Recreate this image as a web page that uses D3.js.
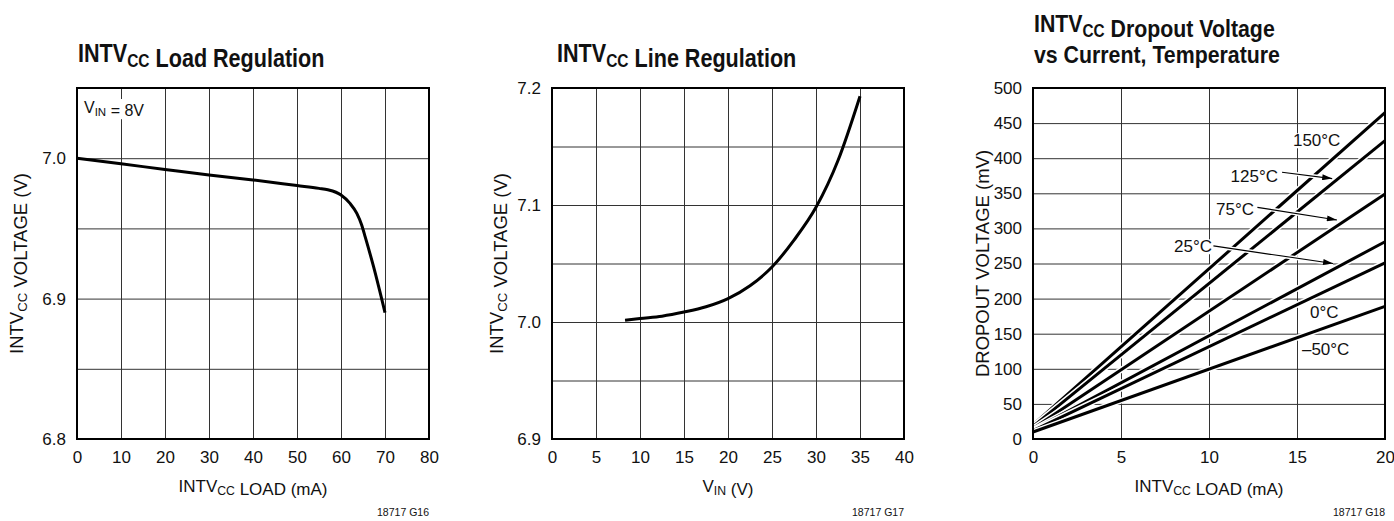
<!DOCTYPE html>
<html>
<head>
<meta charset="utf-8">
<script src="https://cdn.jsdelivr.net/npm/d3@7"></script>
<style>
  html, body { margin: 0; padding: 0; background: #fff; }
  svg { display: block; }
</style>
</head>
<body>
<svg id="chart" width="1394" height="521"></svg>
<script>
// ---------- DATA ----------
// Chart 1: INTVcc load regulation
const loadMA      = [0, 10, 20, 30, 40, 50, 55, 57, 60, 62, 63.6, 64.7, 65.5, 67.4, 70];
const loadVolt    = [7.0, 6.996, 6.992, 6.988, 6.9845, 6.9805, 6.9785, 6.9775, 6.9738, 6.968, 6.9607, 6.9524, 6.944, 6.9227, 6.89];
const load_xTicks = [0, 10, 20, 30, 40, 50, 60, 70, 80];
const load_yTicks = [6.8, 6.9, 7.0];
const load_yGrid  = [6.85, 6.9, 6.95, 7.0];

// Chart 2: INTVcc line regulation
const vin         = [8.3, 10, 12.5, 15, 17.5, 20, 22.5, 25, 27.5, 30, 32.5, 35];
const lineVolt    = [7.0015, 7.003, 7.005, 7.0085, 7.013, 7.020, 7.031, 7.047, 7.070, 7.098, 7.138, 7.193];
const line_xTicks = [0, 5, 10, 15, 20, 25, 30, 35, 40];
const line_yTicks = [6.9, 7.0, 7.1, 7.2];
const line_yGrid  = [6.95, 7.0, 7.05, 7.1, 7.15];

// Chart 3: dropout voltage vs current, temperature
const dropLoad    = [0, 20];
const temps       = ["150°C", "125°C", "75°C", "25°C", "0°C", "–50°C"];
const drop150     = [20, 465];
const drop125     = [18, 425];
const drop75      = [15, 349];
const drop25      = [13, 281];
const drop0       = [12, 251];
const dropM50     = [10, 189];
const drop_xTicks = [0, 5, 10, 15, 20];
const drop_yTicks = [0, 50, 100, 150, 200, 250, 300, 350, 400, 450, 500];

// ---------- STYLE ----------
const FONT = "'Liberation Sans', Arial, Helvetica, sans-serif";
const svg = d3.select("#chart");

function subText(sel, parts, size) {
  parts.forEach(p => {
    if (p[1]) {
      sel.append("tspan").attr("font-size", size * 0.72).attr("dy", size * 0.2).text(p[0]);
      sel.append("tspan").attr("font-size", size).attr("dy", -size * 0.2).text("");
    } else {
      sel.append("tspan").attr("font-size", size).text(p[0]);
    }
  });
}

function panel(opt) {
  const x = d3.scaleLinear().domain(opt.xDomain).range(opt.xRange);
  const y = d3.scaleLinear().domain(opt.yDomain).range(opt.yRange);
  const g = svg.append("g");
  const [x0, x1] = opt.xRange, [yb, yt] = opt.yRange;

  g.append("g").attr("transform", `translate(0,${yb})`)
    .call(d3.axisBottom(x).tickValues(opt.xTicks).tickSize(-(yb - yt)).tickFormat(""))
    .call(a => a.select(".domain").remove())
    .call(a => a.selectAll("line").attr("stroke", "#333").attr("stroke-width", 1));
  g.append("g").attr("transform", `translate(${x0},0)`)
    .call(d3.axisLeft(y).tickValues(opt.yGrid).tickSize(-(x1 - x0)).tickFormat(""))
    .call(a => a.select(".domain").remove())
    .call(a => a.selectAll("line").attr("stroke", "#333").attr("stroke-width", 1));

  g.append("g").attr("transform", `translate(0,${yb})`)
    .call(d3.axisBottom(x).tickValues(opt.xTicks).tickSize(0).tickPadding(12).tickFormat(d3.format("d")))
    .call(a => a.select(".domain").remove())
    .call(a => a.selectAll("text").attr("font-family", FONT).attr("font-size", 17).attr("fill", "#111").attr("dy", "0.71em"));
  g.append("g").attr("transform", `translate(${x0},0)`)
    .call(d3.axisLeft(y).tickValues(opt.yTicks).tickSize(0).tickPadding(11).tickFormat(opt.yFormat))
    .call(a => a.select(".domain").remove())
    .call(a => a.selectAll("text").attr("font-family", FONT).attr("font-size", 17).attr("fill", "#111"));

  return { x, y, g, x0, x1, yb, yt };
}

function frame(p) {
  p.g.append("rect").attr("x", p.x0).attr("y", p.yt)
    .attr("width", p.x1 - p.x0).attr("height", p.yb - p.yt)
    .attr("fill", "none").attr("stroke", "#000").attr("stroke-width", 2);
}

function titles(p, t) {
  const fs = t.titleSize || 26;
  const sx = t.titleScale || 0.83;
  t.title.forEach((parts, i) => {
    const tt = svg.append("text")
      .attr("transform", `translate(${t.titleX},${t.titleY + i * (t.lineGap || 29)}) scale(${sx},1)`)
      .attr("font-family", FONT).attr("font-weight", "bold").attr("fill", "#111");
    subText(tt, parts, fs);
  });
  const xt = svg.append("text").attr("x", (p.x0 + p.x1) / 2).attr("y", 492)
    .attr("text-anchor", "middle").attr("font-family", FONT).attr("fill", "#111");
  subText(xt, t.xTitle, 17);
  const yt = svg.append("text")
    .attr("transform", `translate(${t.yTitleX},${(p.yb + p.yt) / 2}) rotate(-90)`)
    .attr("text-anchor", "middle").attr("font-family", FONT).attr("fill", "#111");
  subText(yt, t.yTitle, 18.5);
  svg.append("text").attr("x", p.x1).attr("y", 516).attr("text-anchor", "end")
    .attr("font-family", FONT).attr("font-size", 10.5).attr("fill", "#111").text(t.footer);
}

// ---------- PANEL 1 ----------
const p1 = panel({
  xDomain: [0, 80], xRange: [77, 429],
  yDomain: [6.8, 7.05], yRange: [439, 88],
  xTicks: load_xTicks, yTicks: load_yTicks, yGrid: load_yGrid,
  yFormat: d3.format(".1f")
});
{
  const lbl = p1.g.append("text").attr("x", 84).attr("y", 113)
    .attr("font-family", FONT).attr("fill", "#111");
  subText(lbl, [["V", false], ["IN", true], [" = 8V", false]], 16);
  const bb = lbl.node().getBBox();
  p1.g.insert("rect", function() { return lbl.node(); })
    .attr("x", bb.x - 2).attr("y", bb.y).attr("width", bb.width + 4).attr("height", bb.height)
    .attr("fill", "#fff");
}
p1.g.append("path")
  .attr("d", d3.line().x((d, i) => p1.x(loadMA[i])).y(d => p1.y(d)).curve(d3.curveMonotoneX)(loadVolt))
  .attr("fill", "none").attr("stroke", "#000").attr("stroke-width", 3);
frame(p1);
titles(p1, {
  title: [[["INTV", false], ["CC", true], [" Load Regulation", false]]],
  titleX: 78, titleY: 62,
  xTitle: [["INTV", false], ["CC", true], [" LOAD (mA)", false]],
  yTitle: [["INTV", false], ["CC", true], [" VOLTAGE (V)", false]],
  yTitleX: 23, footer: "18717 G16"
});

// ---------- PANEL 2 ----------
const p2 = panel({
  xDomain: [0, 40], xRange: [552, 904],
  yDomain: [6.9, 7.2], yRange: [439, 88],
  xTicks: line_xTicks, yTicks: line_yTicks, yGrid: line_yGrid,
  yFormat: d3.format(".1f")
});
p2.g.append("path")
  .attr("d", d3.line().x((d, i) => p2.x(vin[i])).y(d => p2.y(d)).curve(d3.curveMonotoneX)(lineVolt))
  .attr("fill", "none").attr("stroke", "#000").attr("stroke-width", 3);
frame(p2);
titles(p2, {
  title: [[["INTV", false], ["CC", true], [" Line Regulation", false]]],
  titleX: 557, titleY: 62,
  xTitle: [["V", false], ["IN", true], [" (V)", false]],
  yTitle: [["INTV", false], ["CC", true], [" VOLTAGE (V)", false]],
  yTitleX: 503, footer: "18717 G17"
});

// ---------- PANEL 3 ----------
const p3 = panel({
  xDomain: [0, 20], xRange: [1033, 1385],
  yDomain: [0, 500], yRange: [439, 88],
  xTicks: drop_xTicks, yTicks: drop_yTicks, yGrid: drop_yTicks,
  yFormat: d3.format("d")
});
const dropSeries = [drop150, drop125, drop75, drop25, drop0, dropM50];
const dLine = d3.line().x((d, i) => p3.x(dropLoad[i])).y(d => p3.y(d));

const arrows = [
  { from: [14.15, 380], to: [17.0, 371] },
  { from: [12.75, 330], to: [17.27, 312] },
  { from: [10.25, 275], to: [17.05, 250] }
];
const defs = svg.append("defs");
defs.append("marker").attr("id", "ah").attr("viewBox", "0 0 10 6")
  .attr("refX", 10).attr("refY", 3).attr("markerWidth", 13).attr("markerHeight", 6)
  .attr("markerUnits", "userSpaceOnUse").attr("orient", "auto")
  .append("path").attr("d", "M0,0 L10,3 L0,6 Z").attr("fill", "#000");

dropSeries.forEach(s => {
  p3.g.append("path").attr("d", dLine(s)).attr("fill", "none")
    .attr("stroke", "#fff").attr("stroke-width", 6);
  p3.g.append("path").attr("d", dLine(s)).attr("fill", "none")
    .attr("stroke", "#000").attr("stroke-width", 3);
});
arrows.forEach(a => {
  p3.g.append("line")
    .attr("x1", p3.x(a.from[0])).attr("y1", p3.y(a.from[1]))
    .attr("x2", p3.x(a.to[0])).attr("y2", p3.y(a.to[1]))
    .attr("stroke", "#fff").attr("stroke-width", 4);
  p3.g.append("line")
    .attr("x1", p3.x(a.from[0])).attr("y1", p3.y(a.from[1]))
    .attr("x2", p3.x(a.to[0])).attr("y2", p3.y(a.to[1]))
    .attr("stroke", "#000").attr("stroke-width", 1.2).attr("marker-end", "url(#ah)");
});

const tempLabels = [
  { t: temps[0], at: [14.77, 417], anchor: "start" },
  { t: temps[1], at: [13.92, 366], anchor: "end" },
  { t: temps[2], at: [12.56, 319], anchor: "end" },
  { t: temps[3], at: [10.17, 266], anchor: "end" },
  { t: temps[4], at: [15.74, 172], anchor: "start" },
  { t: temps[5], at: [15.28, 120], anchor: "start" }
];
tempLabels.forEach(l => {
  const txt = p3.g.append("text").attr("x", p3.x(l.at[0])).attr("y", p3.y(l.at[1]))
    .attr("text-anchor", l.anchor).attr("font-family", FONT).attr("font-size", 17)
    .attr("fill", "#111").text(l.t);
  const bb = txt.node().getBBox();
  p3.g.insert("rect", function() { return txt.node(); })
    .attr("x", bb.x - 1).attr("y", bb.y + 2).attr("width", bb.width + 2).attr("height", bb.height - 4)
    .attr("fill", "#fff");
});
frame(p3);
titles(p3, {
  title: [[["INTV", false], ["CC", true], [" Dropout Voltage", false]],
          [["vs Current, Temperature", false]]],
  titleX: 1034, titleY: 32, lineGap: 31, titleSize: 24.5, titleScale: 0.87,
  xTitle: [["INTV", false], ["CC", true], [" LOAD (mA)", false]],
  yTitle: [["DROPOUT VOLTAGE (mV)", false]],
  yTitleX: 989, footer: "18717 G18"
});
</script>
</body>
</html>
